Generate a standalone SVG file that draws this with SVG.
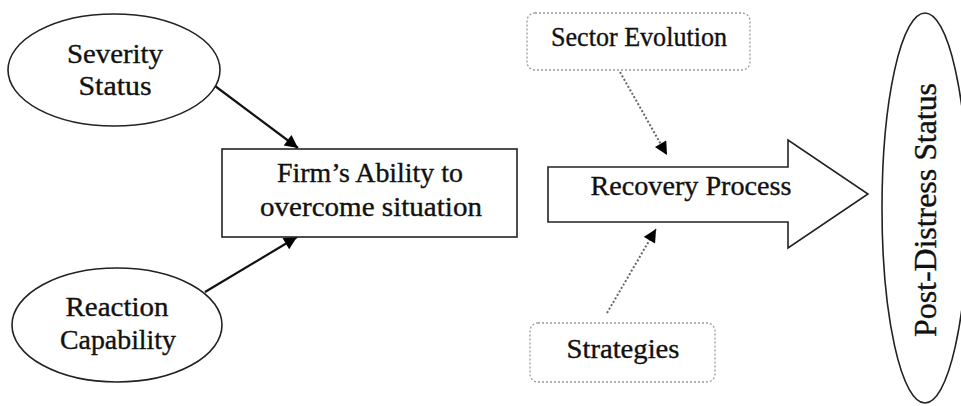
<svg xmlns="http://www.w3.org/2000/svg" width="961" height="406" viewBox="0 0 961 406">
<style>
.t{font-family:"Liberation Serif","Times New Roman",serif;font-size:27px;fill:#111;stroke:#111;stroke-width:0.35;text-anchor:middle}
.node{fill:#fff;stroke:#222;stroke-width:1.6}
.dot{fill:#fff;stroke:#999;stroke-width:1.3;stroke-dasharray:2 2}
.solid{stroke:#111;stroke-width:2.2;fill:none}
.dl{stroke:#666;stroke-width:2;stroke-dasharray:2 2;fill:none}
</style>
<defs>
<marker id="ah" viewBox="0 0 10 10" refX="10" refY="5" markerUnits="userSpaceOnUse" markerWidth="16" markerHeight="13" orient="auto">
<path d="M0,0 L10,5 L0,10 z" fill="#000"/>
</marker>
</defs>
<rect width="961" height="406" fill="#fff"/>
<g id="connectors">
<line class="solid" x1="207" y1="80" x2="298" y2="148" marker-end="url(#ah)"/>
<line class="solid" x1="205" y1="292" x2="297" y2="237" marker-end="url(#ah)"/>
<line class="dl" x1="620" y1="72" x2="667" y2="155" marker-end="url(#ah)"/>
<line class="dl" x1="607" y1="313" x2="656" y2="229" marker-end="url(#ah)"/>
</g>
<g id="severity">
<ellipse class="node" cx="114" cy="70" rx="106" ry="56"/>
<text class="t" x="115" y="63" textLength="96" lengthAdjust="spacingAndGlyphs">Severity</text>
<text class="t" x="115" y="95" textLength="73" lengthAdjust="spacingAndGlyphs">Status</text>
</g>
<g id="reaction">
<ellipse class="node" cx="117" cy="325" rx="105" ry="57"/>
<text class="t" x="117" y="316" textLength="103" lengthAdjust="spacingAndGlyphs">Reaction</text>
<text class="t" x="118" y="349" textLength="116" lengthAdjust="spacingAndGlyphs">Capability</text>
</g>
<g id="firm">
<rect class="node" x="222" y="149" width="295" height="88"/>
<text class="t" x="370" y="182" textLength="186" lengthAdjust="spacingAndGlyphs">Firm’s Ability to</text>
<text class="t" x="371" y="216" textLength="222" lengthAdjust="spacingAndGlyphs">overcome situation</text>
</g>
<g id="sector">
<rect class="dot" x="527" y="13" width="223" height="57" rx="8"/>
<text class="t" x="639" y="46" textLength="176" lengthAdjust="spacingAndGlyphs">Sector Evolution</text>
</g>
<g id="recovery">
<polygon class="node" points="548,167 788,167 788,140 868,194 788,248 788,222 548,222"/>
<text class="t" x="691" y="195" textLength="201" lengthAdjust="spacingAndGlyphs">Recovery Process</text>
</g>
<g id="strategies">
<rect class="dot" x="530" y="323" width="185" height="59" rx="8"/>
<text class="t" x="623" y="358" textLength="113" lengthAdjust="spacingAndGlyphs">Strategies</text>
</g>
<g id="postdistress">
<ellipse class="node" cx="925" cy="208" rx="43" ry="195"/>
<text class="t" style="font-size:31px" transform="translate(936,210) rotate(-90)" x="0" y="0" textLength="254" lengthAdjust="spacingAndGlyphs">Post-Distress Status</text>
</g>
</svg>
